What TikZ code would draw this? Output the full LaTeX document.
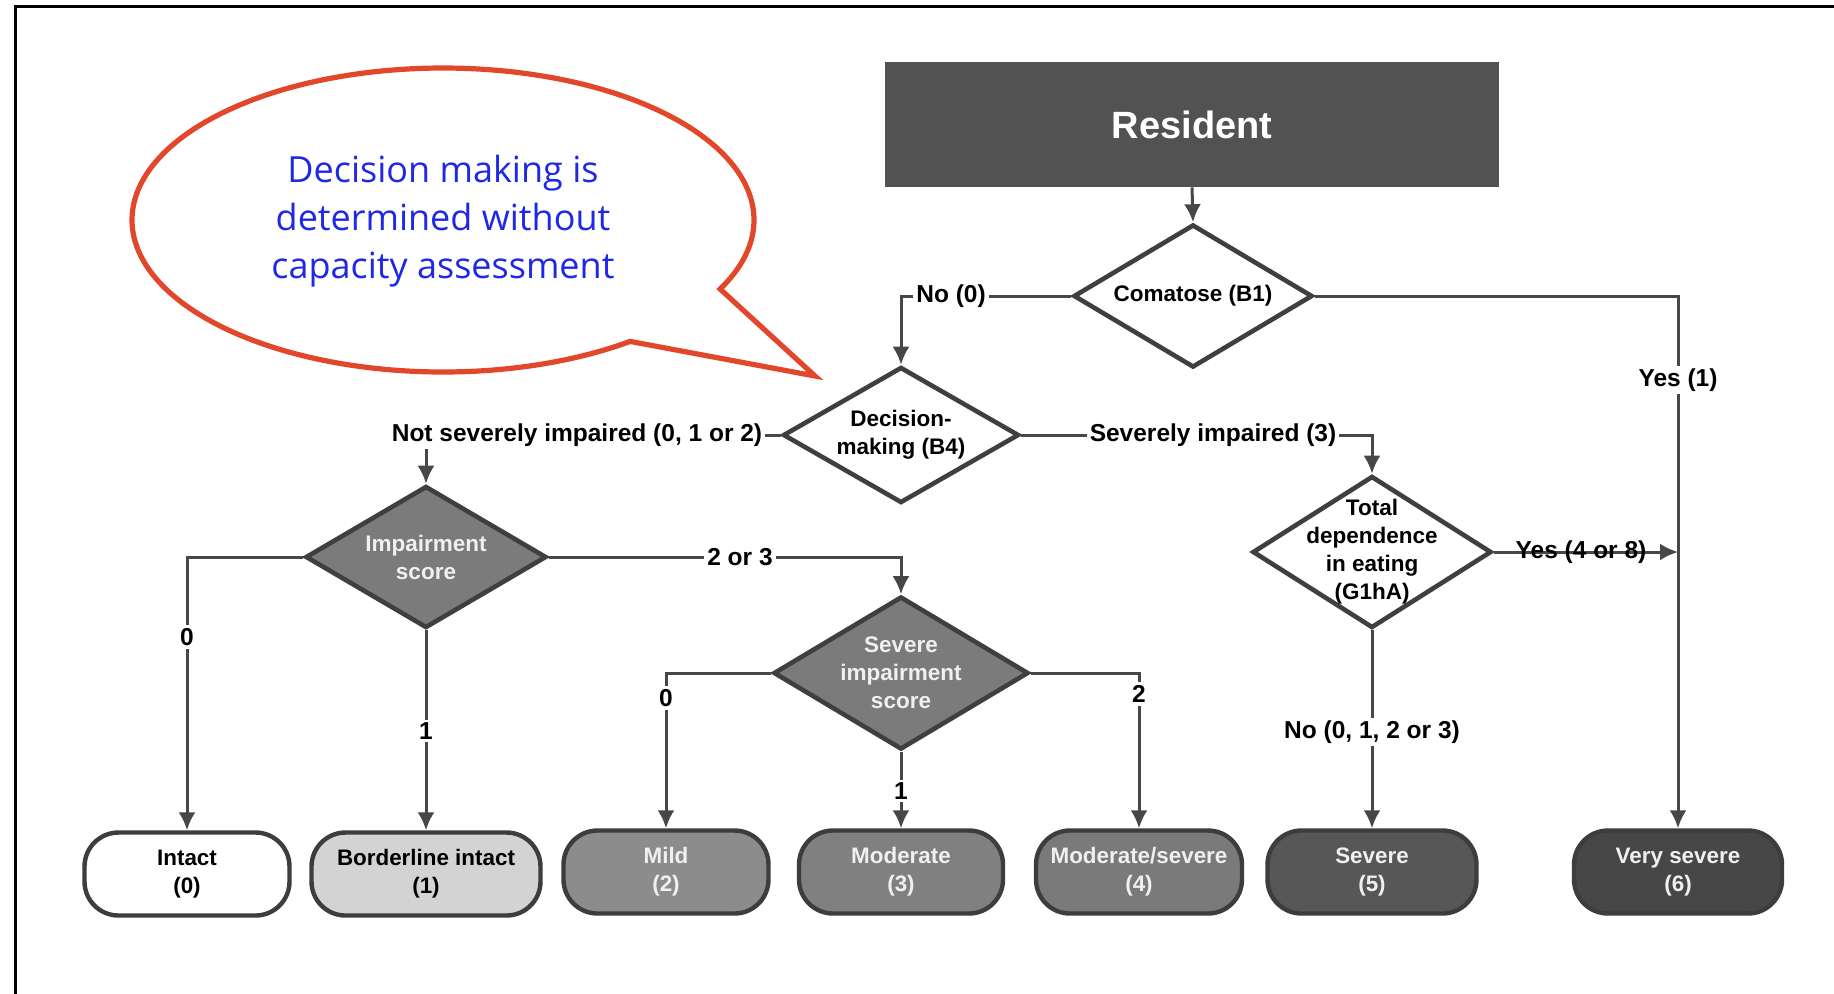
\documentclass[tikz,border=0pt]{standalone}
\usepackage{fontspec}
\setmainfont{Liberation Sans}
\newfontfamily\bubblefont{Open Sans}
\usetikzlibrary{shapes.geometric,arrows.meta}
\definecolor{lc}{HTML}{474747}
\definecolor{dbord}{HTML}{3F3F3F}
\definecolor{dfill}{HTML}{7B7B7B}
\definecolor{resc}{HTML}{525252}
\definecolor{tbord}{HTML}{3D3D3D}
\definecolor{cbor}{HTML}{D3D3D3}
\definecolor{cmil}{HTML}{8C8C8C}
\definecolor{cmod}{HTML}{808080}
\definecolor{cms}{HTML}{7A7A7A}
\definecolor{csev}{HTML}{575757}
\definecolor{cvs}{HTML}{474747}
\definecolor{bred}{HTML}{E2472C}
\definecolor{bblue}{HTML}{1E28E6}
\definecolor{ltxt}{HTML}{F0F0F0}
\begin{document}
\begin{tikzpicture}[x=0.5pt,y=-0.5pt,
  conn/.style={draw=lc, line width=1.5pt},
  arr/.style={conn, -{Latex[length=9pt,width=8.5pt]}},
  dia/.style={diamond, draw=dbord, line width=2.3pt, fill=white, inner sep=0pt},
  ddia/.style={dia, fill=dfill},
  dtxt/.style={align=center, inner sep=0pt, font=\bfseries\fontsize{11.25}{14}\selectfont},
  term/.style={rectangle, rounded corners=17pt, draw=tbord, line width=2.2pt,
    minimum height=41.5pt, inner sep=0pt, align=center,
    font=\bfseries\fontsize{11.2}{14}\selectfont},
  elab/.style={fill=white, inner sep=1.5pt, font=\bfseries\fontsize{12.25}{14}\selectfont},
  elabnf/.style={inner sep=1.5pt, font=\bfseries\fontsize{12.25}{14}\selectfont},
  bubble/.style={draw=bred, line width=2.6pt, fill=white, line join=miter}
]
\useasboundingbox (0,0) rectangle (1834,993);
\fill[white] (0,0) rectangle (1834,993);
\draw[line width=1.5pt, black] (15,1000) -- (15,6) -- (1840,6);

% speech bubble
\draw[bubble] plot[domain=53:387, samples=150, smooth] ({443+311*cos(\x)},{220+152*sin(\x)}) -- (815,376) -- cycle;
\node[align=center, text=bblue, font=\bubblefont\fontsize{18}{24}\selectfont] (btxt) at (443,221)
  {Decision making is\\determined without\\capacity assessment};

% main nodes
\node[rectangle, fill=resc, minimum width=307pt, minimum height=62.5pt, text=white,
  font=\bfseries\fontsize{19}{22}\selectfont] (res) at (1192,124.5) {Resident};

\node[dia, minimum width=119.5pt, minimum height=71.5pt] (com) at (1193,296) {};
\node[dtxt] (comT) at (com.center) {Comatose (B1)};

\node[dia, minimum width=118pt, minimum height=68pt] (dec) at (901,435) {};
\node[dtxt] (decT) at (dec.center) {Decision-\\making (B4)};

\node[dia, minimum width=119.5pt, minimum height=76pt] (tot) at (1372,552) {};
\node[dtxt] (totT) at (tot.center) {Total\\dependence\\in eating\\(G1hA)};

\node[ddia, minimum width=120.5pt, minimum height=71pt] (imp) at (426,557) {};
\node[dtxt, text=ltxt] (impT) at (imp.center) {Impairment\\score};

\node[ddia, minimum width=127.5pt, minimum height=76.5pt] (sis) at (901,673) {};
\node[dtxt, text=ltxt] (sisT) at (sis.center) {Severe\\impairment\\score};

% terminals
\node[term, fill=white, minimum width=102.5pt] (int) at (187,874) {Intact\\(0)};
\node[term, fill=cbor, minimum width=114.5pt] (bor) at (426,874) {Borderline intact\\(1)};
\node[term, fill=cmil, text=ltxt, minimum width=102.5pt] (mil) at (666,872) {Mild\\(2)};
\node[term, fill=cmod, text=ltxt, minimum width=102pt] (mod) at (901,872) {Moderate\\(3)};
\node[term, fill=cms, text=ltxt, minimum width=103pt] (ms) at (1139,872) {Moderate/severe\\(4)};
\node[term, fill=csev, text=ltxt, minimum width=104.5pt] (sev) at (1372,872) {Severe\\(5)};
\node[term, fill=cvs, text=ltxt, minimum width=104pt] (vs) at (1678,872) {Very severe\\(6)};

% connectors
\draw[arr] (res.south) -- (com.north);
\draw[arr] (com.west) -| (dec.north);
\node[elab] (l1) at (951,296) {No (0)};
\draw[arr] (com.east) -| (vs.north);
\node[elab] (l2) at (1678,380) {Yes (1)};
\draw[arr] (dec.west) -| (imp.north);
\node[elab] (l3) at (577,435) {Not severely impaired (0, 1 or 2)};
\draw[arr] (dec.east) -| (tot.north);
\node[elab] (l4) at (1213,435) {Severely impaired (3)};
\coordinate (j) at (1678,552);
\draw[arr] (tot.east) -- (j);
\node[elabnf] (l5) at (1581,552) {Yes (4 or 8)};
\draw[arr] (tot.south) -- (sev.north);
\node[elab] (l6) at (1372,732) {No (0, 1, 2 or 3)};
\draw[arr] (imp.west) -| (int.north);
\node[elab] (l7) at (187,637) {0};
\draw[arr] (imp.south) -- (bor.north);
\node[elab] (l8) at (426,731) {1};
\draw[arr] (imp.east) -| (sis.north);
\node[elab] (l9) at (740,557) {2 or 3};
\draw[arr] (sis.west) -| (mil.north);
\node[elab] (l10) at (666,698) {0};
\draw[arr] (sis.south) -- (mod.north);
\node[elab] (l11) at (901,791) {1};
\draw[arr] (sis.east) -| (ms.north);
\node[elab] (l12) at (1139,694) {2};
\end{tikzpicture}
\end{document}
